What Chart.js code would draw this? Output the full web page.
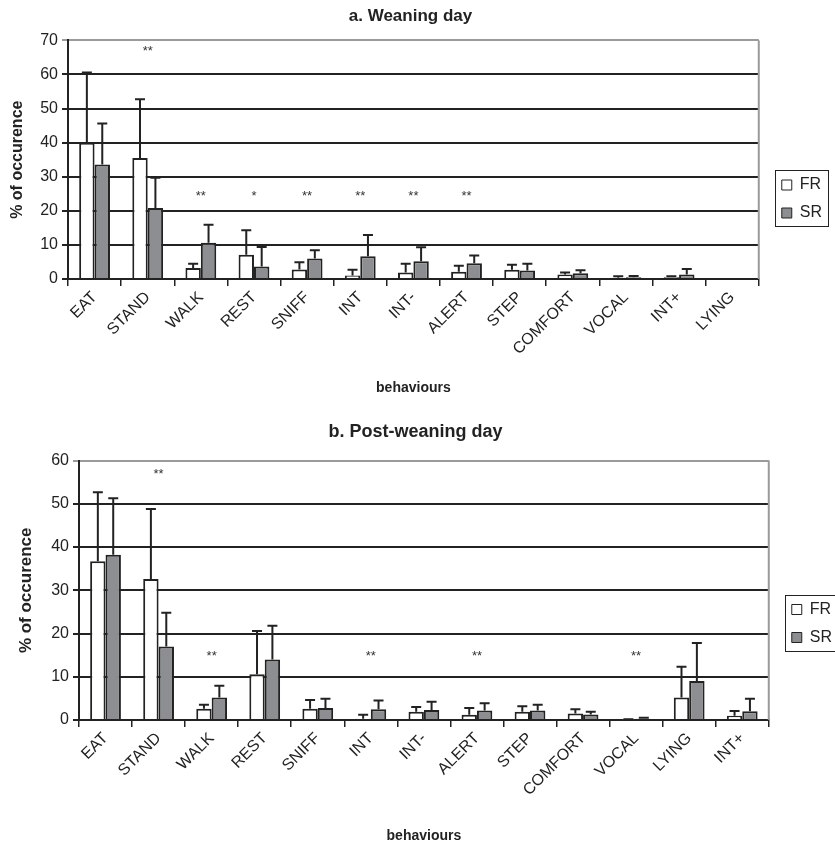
<!DOCTYPE html>
<html>
<head>
<meta charset="utf-8">
<script src="https://cdn.jsdelivr.net/npm/chart.js@4"></script>
<style>
  body { margin: 0; background: #fff; }
  .box { position: absolute; left: 0; width: 835px; }
  #boxA { top: 0; height: 398px; }
  #boxB { top: 398px; height: 451px; }
</style>
</head>
<body>
<div class="box" id="boxA"><canvas id="chartA"></canvas></div>
<div class="box" id="boxB"><canvas id="chartB"></canvas></div>
<script>
// a. Weaning day
const labelsA = ['EAT', 'STAND', 'WALK', 'REST', 'SNIFF', 'INT', 'INT-', 'ALERT', 'STEP', 'COMFORT', 'VOCAL', 'INT+', 'LYING'];
const frA   = [40.0, 35.5, 3.2, 7.1, 2.8, 1.0, 1.9, 2.1, 2.7, 1.3, 0.4, 0.5, 0];
const frSdA = [20.6, 17.2, 1.3, 7.2, 2.1, 1.7, 2.6, 1.8, 1.5, 0.6, 0.4, 0.3, 0];
const srA   = [33.6, 20.8, 10.6, 3.7, 6.0, 6.7, 5.2, 4.6, 2.5, 1.7, 0.5, 1.3, 0];
const srSdA = [12.0, 8.9, 5.3, 5.7, 2.4, 6.2, 4.1, 2.3, 2.0, 0.9, 0.4, 1.6, 0];
const starsA = ['', '**', '**', '*', '**', '**', '**', '**', '', '', '', '', ''];
const starLevelA = [null, 66.8, 24.1, 24.1, 24.1, 24.1, 24.1, 24.1, null, null, null, null, null];
const ticksA = { max: 70, step: 10 };

// b. Post-weaning day
const labelsB = ['EAT', 'STAND', 'WALK', 'REST', 'SNIFF', 'INT', 'INT-', 'ALERT', 'STEP', 'COMFORT', 'VOCAL', 'LYING', 'INT+'];
const frB   = [36.7, 32.6, 2.6, 10.6, 2.6, 0.3, 1.9, 1.2, 1.9, 1.5, 0.1, 5.2, 1.0];
const frSdB = [16.0, 16.2, 0.9, 10.0, 2.0, 0.9, 1.1, 1.6, 1.3, 1.0, 0.1, 7.1, 1.1];
const srB   = [38.2, 17.0, 5.2, 14.0, 2.8, 2.5, 2.3, 2.2, 2.2, 1.3, 0.3, 9.0, 2.0];
const srSdB = [13.1, 7.8, 2.7, 7.8, 2.1, 2.0, 1.9, 1.7, 1.3, 0.6, 0.2, 8.8, 2.9];
const starsB = ['', '**', '**', '', '', '**', '', '**', '', '', '**', '', ''];
const starLevelB = [null, 56.7, 14.8, null, null, 14.8, null, 14.8, null, null, 14.8, null, null];
const ticksB = { max: 60, step: 10 };

Chart.defaults.font.family = "'Liberation Sans', Arial, sans-serif";
Chart.defaults.color = '#222';

const INK = '#222';
const GREY_FILL = '#8d8e91';

// error bars (upper half only) and significance marks
const extras = {
    id: 'extras',
    afterLayout(chart, args, opts) {
        if (chart.legend && opts.legendShift) {
            chart.legend.left += opts.legendShift;
            chart.legend.right += opts.legendShift;
        }
    },
    afterDatasetsDraw(chart, args, opts) {
        const ctx = chart.ctx, y = chart.scales.y, x = chart.scales.x;
        const area = chart.chartArea;
        ctx.save();
        // right frame line
        ctx.strokeStyle = '#9a9a9a';
        ctx.lineWidth = 2;
        ctx.beginPath();
        ctx.moveTo(area.right, area.top);
        ctx.lineTo(area.right, area.bottom);
        ctx.stroke();

        ctx.strokeStyle = INK;
        ctx.lineWidth = 2;
        chart.data.datasets.forEach((ds, i) => {
            const meta = chart.getDatasetMeta(i);
            meta.data.forEach((bar, j) => {
                const sd = ds.errors[j];
                if (!sd) return;
                const top = y.getPixelForValue(ds.data[j] + sd);
                ctx.beginPath();
                ctx.moveTo(bar.x, bar.y);
                ctx.lineTo(bar.x, top);
                ctx.moveTo(bar.x - 5, top);
                ctx.lineTo(bar.x + 5, top);
                ctx.stroke();
            });
        });

        ctx.fillStyle = '#333';
        ctx.font = "13px 'Liberation Sans', Arial, sans-serif";
        ctx.textAlign = 'center';
        ctx.textBaseline = 'middle';
        opts.marks.forEach((m, j) => {
            if (!m) return;
            ctx.fillText(m, x.getPixelForValue(j), y.getPixelForValue(opts.levels[j]));
        });
        ctx.restore();
    },
    afterDraw(chart) {
        const boxes = chart.legend && chart.legend.legendHitBoxes;
        if (!boxes || !boxes.length) return;
        const l = Math.min(...boxes.map(b => b.left)) - 7;
        const r = Math.max(...boxes.map(b => b.left + b.width)) + 6;
        const t = Math.min(...boxes.map(b => b.top)) - 7;
        const btm = Math.max(...boxes.map(b => b.top + b.height)) + 5;
        const ctx = chart.ctx;
        ctx.save();
        ctx.strokeStyle = INK;
        ctx.lineWidth = 1;
        ctx.strokeRect(Math.round(l) + 0.5, Math.round(t) + 0.5, Math.round(r - l), Math.round(btm - t));
        ctx.restore();
    }
};

function makeChart(id, title, labels, fr, frSd, sr, srSd, stars, levels, ticks, lay) {
    return new Chart(document.getElementById(id), {
        type: 'bar',
        data: {
            labels: labels,
            datasets: [
                { label: 'FR', data: fr, errors: frSd, backgroundColor: '#fff', borderColor: INK, borderWidth: 2,
                  barPercentage: 1, categoryPercentage: 0.58 },
                { label: 'SR', data: sr, errors: srSd, backgroundColor: GREY_FILL, borderColor: INK, borderWidth: 2,
                  barPercentage: 1, categoryPercentage: 0.58 }
            ]
        },
        options: {
            responsive: true,
            maintainAspectRatio: false,
            animation: false,
            layout: { padding: { top: 0, right: lay.right, bottom: 0, left: 0 } },
            plugins: {
                title: {
                    display: true, text: title, color: INK,
                    font: { size: lay.titleSize, weight: 'bold' },
                    padding: { top: lay.titleTop, bottom: lay.titleBottom }
                },
                legend: {
                    position: 'right',
                    labels: {
                        boxWidth: 10, boxHeight: 10, padding: 12, color: INK,
                        font: { size: 16 },
                        generateLabels: (c) => Chart.defaults.plugins.legend.labels.generateLabels(c)
                            .map(it => Object.assign(it, { lineWidth: 1 }))
                    }
                },
                tooltip: { enabled: false },
                extras: { marks: stars, levels: levels, legendShift: lay.legendShift }
            },
            scales: {
                x: {
                    grid: { offset: true, drawOnChartArea: false, color: INK, lineWidth: 1.5, tickLength: 7 },
                    border: { color: INK, width: 2 },
                    ticks: { maxRotation: 45, minRotation: 45, padding: 2, color: INK, font: { size: 16 } },
                    title: { display: true, text: 'behaviours', color: INK,
                             font: { size: 14, weight: 'bold' }, padding: { top: 0, bottom: lay.xTitleBottom } },
                    afterFit: s => { s.height = lay.xHeight; }
                },
                y: {
                    min: 0, max: ticks.max,
                    ticks: { stepSize: ticks.step, color: INK, font: { size: 16 }, padding: 4 },
                    grid: {
                        color: c => (c.tick && c.tick.value === ticks.max) ? '#9a9a9a' : INK,
                        lineWidth: 2, tickLength: 6
                    },
                    border: { color: INK, width: 2 },
                    title: { display: true, text: '% of occurence', color: INK,
                             font: { size: lay.yTitleSize, weight: 'bold' }, padding: { top: lay.yTitleTop, bottom: 0 } },
                    afterFit: s => { s.width = lay.yWidth; }
                }
            }
        },
        plugins: [extras]
    });
}

makeChart('chartA', 'a. Weaning day', labelsA, frA, frSdA, srA, srSdA, starsA, starLevelA, ticksA,
    { right: 14, titleSize: 17, titleTop: 6, titleBottom: 14, xHeight: 119, xTitleBottom: 1,
      yWidth: 68, yTitleSize: 16, yTitleTop: 8, legendShift: 11 });
makeChart('chartB', 'b. Post-weaning day', labelsB, frB, frSdB, srB, srSdB, starsB, starLevelB, ticksB,
    { right: 4, titleSize: 18, titleTop: 23, titleBottom: 18, xHeight: 129, xTitleBottom: 4,
      yWidth: 79, yTitleSize: 17, yTitleTop: 16, legendShift: 11 });
</script>
</body>
</html>
